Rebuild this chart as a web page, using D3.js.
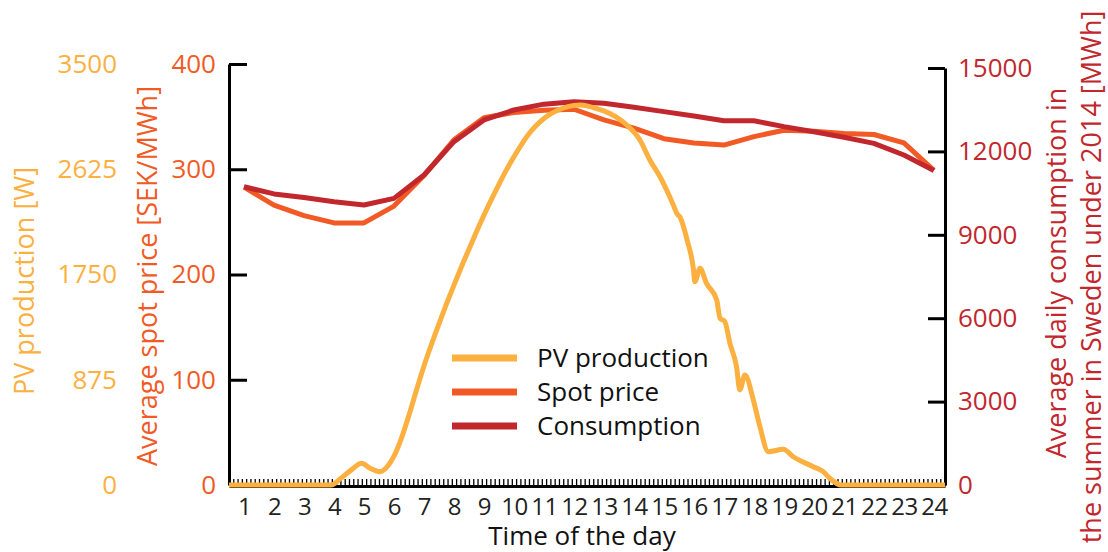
<!DOCTYPE html>
<html lang="en">
<head>
    <meta charset="UTF-8">
    <title>PV production, spot price and consumption</title>
    <script src="https://d3js.org/d3.v7.min.js"></script>
    <style>
        body {
            margin: 0;
            background: #fff;
            font-family: 'Open Sans', sans-serif;
        }

        svg text {
            font-family: 'Open Sans', sans-serif;
        }

        .line {
            fill: none;
            stroke-width: 5px;
            stroke-linejoin: round;
        }
    </style>
</head>
<body>

<svg id="chart" width="1108" height="552"></svg>

<script>
    // hours shown on the x axis
    const hours = d3.range(1, 25);

    // average spot price per hour [SEK/MWh]
    const spotPrice = [283, 266, 256, 249, 249, 265, 294, 328, 349, 354, 356, 357,
                       347, 339, 329, 325, 323, 331, 337, 336, 334, 333, 325, 299];

    // average consumption per hour [MWh]
    const consumption = [10730, 10470, 10340, 10190, 10070, 10310, 11150, 12350, 13130, 13490, 13700, 13790,
                         13730, 13590, 13430, 13270, 13100, 13100, 12890, 12710, 12510, 12290, 11870, 11310];

    // PV production: [hour, W]
    const pvHour = [0.5, 3.5, 3.9, 4.2, 4.6, 4.92, 5.2, 5.53, 5.8, 6.0, 6.25, 6.5, 6.75, 7.0, 7.25, 7.5, 7.75,
                    8.0, 8.25, 8.5, 8.75, 9.0, 9.25, 9.5, 9.75, 10.0, 10.25, 10.5, 10.75, 11.0, 11.25, 11.5,
                    11.75, 12.0, 12.2, 12.5, 12.75, 13.0, 13.4,
                    13.76, 14.2, 14.53, 14.87, 15.09, 15.31, 15.45, 15.53, 15.78, 15.98, 16.03, 16.2, 16.42,
                    16.76, 16.87, 17.03, 17.2, 17.42, 17.53, 17.7, 17.98, 18.2, 18.48, 18.98, 19.31, 19.98,
                    20.31, 20.53, 20.9, 24.37];
    const pvWatt = [0, 0, 0, 50, 130, 180, 140, 110, 160, 240, 390, 580, 790, 990, 1170, 1340, 1505,
                    1662, 1815, 1960, 2105, 2244, 2375, 2500, 2620, 2729, 2830, 2920, 2990, 3047, 3090, 3120,
                    3142, 3155, 3159, 3148, 3130, 3110, 3060,
                    2993, 2868, 2702, 2563, 2452, 2330, 2250, 2230, 2030, 1800, 1690, 1801, 1676,
                    1538, 1386, 1358, 1178, 983, 790, 914, 707, 485, 277, 297, 235, 152,
                    111, 56, 0, 0];

    const pvTicks = [0, 875, 1750, 2625, 3500];
    const spotTicks = [0, 100, 200, 300, 400];
    const consTicks = [0, 3000, 6000, 9000, 12000, 15000];

    const colPV = "#fbb040";
    const colSpot = "#f15a24";
    const colCons = "#c1272d";

    const svg = d3.select("#chart");

    const x = d3.scaleLinear().domain([0.5, 24.37]).range([229, 945]);
    const ySpot = d3.scaleLinear().domain([0, 400]).range([485, 64]);
    const yPV = d3.scaleLinear().domain([0, 3500]).range([485, 64]);
    const yCons = d3.scaleLinear().domain([0, 15000]).range([485, 68]);

    // minor ticks along the time axis
    const minor = d3.range(0.5, 24.37, 1 / 7);
    svg.append("g")
        .attr("transform", "translate(0,486)")
        .call(d3.axisBottom(x).tickValues(minor).tickSize(-7).tickFormat(""))
        .call(g => g.select(".domain").remove())
        .call(g => g.selectAll("line").attr("stroke", "#000").attr("stroke-width", 1.3));

    // x axis
    const xAxis = svg.append("g")
        .attr("transform", "translate(0,486)")
        .call(d3.axisBottom(x).tickValues(hours).tickSize(0).tickSizeOuter(0).tickPadding(12));
    xAxis.select(".domain").attr("stroke", "#000").attr("stroke-width", 3);
    xAxis.selectAll("text").attr("font-size", 24).attr("letter-spacing", "-0.5px").attr("fill", "#222");

    // spot price axis (left)
    const spotAxis = svg.append("g")
        .attr("transform", "translate(229,0)")
        .call(d3.axisLeft(ySpot).tickValues(spotTicks).tickSizeInner(-18).tickSizeOuter(0).tickPadding(13));
    spotAxis.select(".domain").attr("stroke", "#000").attr("stroke-width", 3);
    spotAxis.selectAll("line").attr("stroke", "#000").attr("stroke-width", 3);
    spotAxis.selectAll("text").attr("font-size", 26).attr("fill", colSpot);

    // PV axis (labels only)
    const pvAxis = svg.append("g")
        .attr("transform", "translate(117,0)")
        .call(d3.axisLeft(yPV).tickValues(pvTicks).tickFormat(d3.format("d")).tickSize(0).tickPadding(0));
    pvAxis.select(".domain").remove();
    pvAxis.selectAll("text").attr("font-size", 26).attr("fill", colPV);

    // consumption axis (right)
    const consAxis = svg.append("g")
        .attr("transform", "translate(945,0)")
        .call(d3.axisRight(yCons).tickValues(consTicks).tickFormat(d3.format("d"))
            .tickSizeInner(-17).tickSizeOuter(0).tickPadding(13));
    consAxis.select(".domain").attr("stroke", "#000").attr("stroke-width", 3);
    consAxis.selectAll("line").attr("stroke", "#000").attr("stroke-width", 3);
    consAxis.selectAll("text").attr("font-size", 26).attr("fill", colCons);

    // lines
    const spotLine = d3.line().x((d, i) => x(hours[i])).y(d => ySpot(d));
    const consLine = d3.line().x((d, i) => x(hours[i])).y(d => yCons(d));
    const pvLine = d3.line().curve(d3.curveMonotoneX).x((d, i) => x(pvHour[i])).y(d => yPV(d));

    svg.append("path").datum(spotPrice).attr("class", "line").attr("stroke", colSpot).attr("d", spotLine);
    svg.append("path").datum(consumption).attr("class", "line").attr("stroke", colCons).attr("d", consLine);
    svg.append("path").datum(pvWatt).attr("class", "line").attr("stroke", colPV).attr("d", pvLine);

    // legend
    const legend = [
        { name: "PV production", color: colPV },
        { name: "Spot price", color: colSpot },
        { name: "Consumption", color: colCons }
    ];
    const lg = svg.append("g").attr("transform", "translate(452,358)");
    legend.forEach((d, i) => {
        lg.append("line")
            .attr("x1", 0).attr("x2", 65)
            .attr("y1", i * 34).attr("y2", i * 34)
            .attr("stroke", d.color).attr("stroke-width", 7);
        lg.append("text")
            .attr("x", 85).attr("y", i * 34).attr("dy", "0.35em")
            .attr("font-size", 26).attr("fill", "#111")
            .text(d.name);
    });

    // axis titles
    svg.append("text")
        .attr("transform", "translate(34,281) rotate(-90)")
        .attr("text-anchor", "middle").attr("font-size", 27).attr("fill", colPV)
        .text("PV production [W]");

    svg.append("text")
        .attr("transform", "translate(157,276) rotate(-90)")
        .attr("text-anchor", "middle").attr("font-size", 27).attr("fill", colSpot)
        .text("Average spot price [SEK/MWh]");

    svg.append("text")
        .attr("transform", "translate(1066,273) rotate(-90)")
        .attr("text-anchor", "middle").attr("font-size", 27).attr("fill", colCons)
        .text("Average daily consumption in");

    svg.append("text")
        .attr("transform", "translate(1101,277) rotate(-90)")
        .attr("text-anchor", "middle").attr("font-size", 27).attr("fill", colCons)
        .text("the summer in Sweden under 2014 [MWh]");

    svg.append("text")
        .attr("x", 582).attr("y", 545)
        .attr("text-anchor", "middle").attr("font-size", 26).attr("fill", "#111")
        .text("Time of the day");
</script>

</body>
</html>
